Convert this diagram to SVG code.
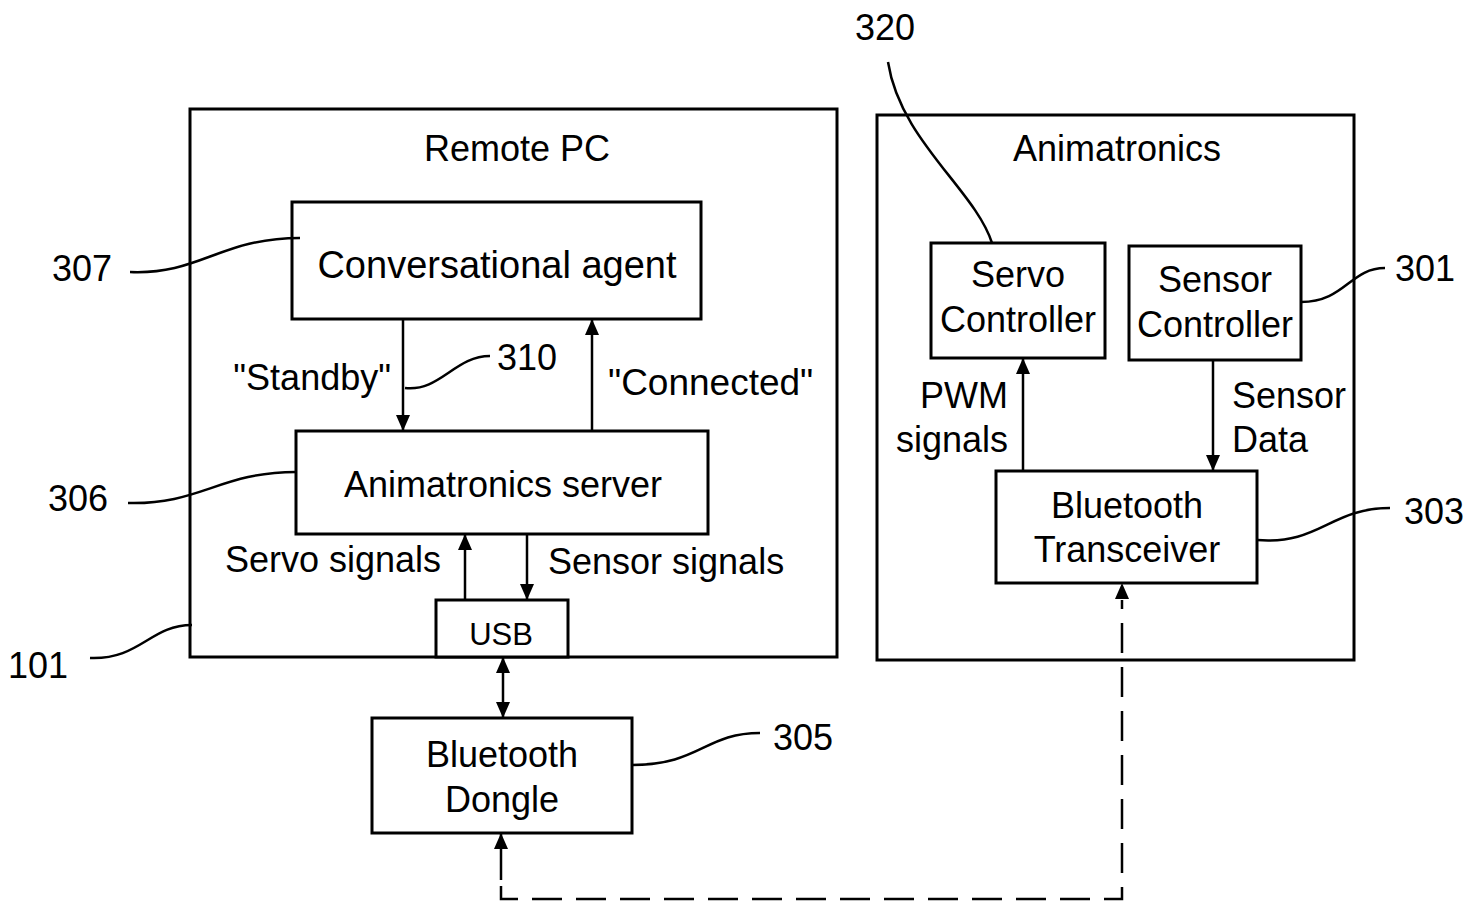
<svg xmlns="http://www.w3.org/2000/svg" width="1473" height="905" viewBox="0 0 1473 905">
<style>
.box{fill:#fff;stroke:#000;stroke-width:3}
.frame{fill:none;stroke:#000;stroke-width:3}
.t{font-family:"Liberation Sans",Arial,sans-serif;font-size:36px;fill:#000}
.c{text-anchor:middle}
.e{text-anchor:end}
.line{fill:none;stroke:#000;stroke-width:2.5}
.lead{fill:none;stroke:#000;stroke-width:2.5}
.dash{fill:none;stroke:#000;stroke-width:2.5;stroke-dasharray:30 14}
</style>
<defs>
<marker id="ah" markerUnits="userSpaceOnUse" markerWidth="18" markerHeight="16" refX="16" refY="7" orient="auto">
<path d="M0,0 L16,7 L0,14 Z" fill="#000"/>
</marker>
<marker id="as" markerUnits="userSpaceOnUse" markerWidth="18" markerHeight="16" refX="0" refY="7" orient="auto">
<path d="M16,0 L0,7 L16,14 Z" fill="#000"/>
</marker>
</defs>
<rect width="1473" height="905" fill="#fff"/>

<g id="remote-pc">
<rect class="frame" x="190" y="109" width="647" height="548"/>
<text class="t c" x="517" y="161">Remote PC</text>
</g>
<g id="animatronics">
<rect class="frame" x="877" y="115" width="477" height="545"/>
<text class="t c" x="1117" y="161">Animatronics</text>
</g>

<g id="connectors">
<line class="line" x1="403" y1="319" x2="403" y2="431" marker-end="url(#ah)"/>
<line class="line" x1="592" y1="431" x2="592" y2="319" marker-end="url(#ah)"/>
<line class="line" x1="465" y1="600" x2="465" y2="534" marker-end="url(#ah)"/>
<line class="line" x1="527" y1="534" x2="527" y2="600" marker-end="url(#ah)"/>
<line class="line" x1="503" y1="657" x2="503" y2="718" marker-start="url(#as)" marker-end="url(#ah)"/>
<line class="line" x1="1023" y1="471" x2="1023" y2="358" marker-end="url(#ah)"/>
<line class="line" x1="1213" y1="360" x2="1213" y2="471" marker-end="url(#ah)"/>
<line class="line" x1="501" y1="880" x2="501" y2="833" marker-end="url(#ah)"/>
<path class="dash" d="M501,886 V899 H1122 V600"/>
<path d="M1115,599 L1122,583 L1129,599 Z" fill="#000"/>
</g>

<g id="conversational-agent">
<rect class="box" x="292" y="202" width="409" height="117"/>
<text class="t c" x="497" y="278" style="font-size:38px">Conversational agent</text>
</g>
<g id="animatronics-server">
<rect class="box" x="296" y="431" width="412" height="103"/>
<text class="t c" x="503" y="497">Animatronics server</text>
</g>
<g id="usb">
<rect class="box" x="436" y="600" width="132" height="57"/>
<text class="t c" x="501" y="645" style="font-size:31px">USB</text>
</g>
<g id="bluetooth-dongle">
<rect class="box" x="372" y="718" width="260" height="115"/>
<text class="t c" x="502" y="767">Bluetooth</text>
<text class="t c" x="502" y="812">Dongle</text>
</g>
<g id="servo-controller">
<rect class="box" x="931" y="243" width="174" height="115"/>
<text class="t c" x="1018" y="287">Servo</text>
<text class="t c" x="1018" y="332">Controller</text>
</g>
<g id="sensor-controller">
<rect class="box" x="1129" y="246" width="172" height="114"/>
<text class="t c" x="1215" y="292">Sensor</text>
<text class="t c" x="1215" y="337">Controller</text>
</g>
<g id="bluetooth-transceiver">
<rect class="box" x="996" y="471" width="261" height="112"/>
<text class="t c" x="1127" y="518">Bluetooth</text>
<text class="t c" x="1127" y="562">Transceiver</text>
</g>

<g id="edge-labels">
<text class="t e" x="391" y="390">"Standby"</text>
<text class="t" x="608" y="395" style="font-size:37px">"Connected"</text>
<text class="t e" x="441" y="572">Servo signals</text>
<text class="t" x="548" y="574">Sensor signals</text>
<text class="t e" x="1008" y="408">PWM</text>
<text class="t e" x="1008" y="452">signals</text>
<text class="t" x="1232" y="408">Sensor</text>
<text class="t" x="1232" y="452">Data</text>
</g>

<g id="reference-labels">
<text class="t c" x="885" y="40">320</text>
<path class="lead" d="M888,62 C900,140 975,190 992,243"/>
<text class="t" x="1395" y="281">301</text>
<path class="lead" d="M1301,302 C1345,302 1350,268 1385,268"/>
<text class="t" x="1404" y="524">303</text>
<path class="lead" d="M1257,540 C1320,545 1330,508 1390,508"/>
<text class="t" x="52" y="281">307</text>
<path class="lead" d="M130,272 C200,275 220,238 300,238"/>
<text class="t" x="48" y="511">306</text>
<path class="lead" d="M128,503 C200,505 220,472 296,472"/>
<text class="t" x="8" y="678">101</text>
<path class="lead" d="M90,658 C140,660 150,625 192,625"/>
<text class="t" x="773" y="750">305</text>
<path class="lead" d="M632,765 C700,765 705,733 760,733"/>
<text class="t" x="497" y="370">310</text>
<path class="lead" d="M405,388 C440,392 455,356 490,356"/>
</g>
</svg>
